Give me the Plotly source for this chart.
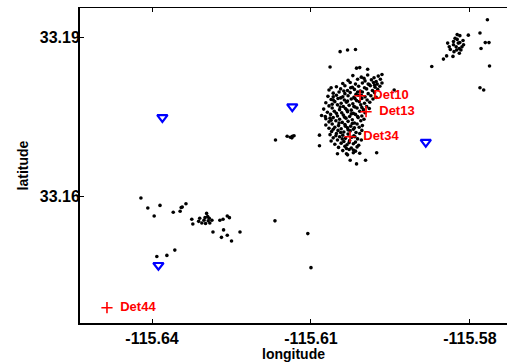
import plotly.graph_objects as go

# ---------------- data ----------------
# dense cluster near the detections (lon, lat)
cluster_pts = [
    (-115.6021,33.1828),(-115.6005,33.1825),(-115.5993,33.1829),(-115.5981,33.1824),(-115.5973,33.1827),(-115.5966,33.1830),
    (-115.6030,33.1819),(-115.6012,33.1821),(-115.5998,33.1818),(-115.5986,33.1820),(-115.5977,33.1817),(-115.5969,33.1821),
    (-115.6040,33.1813),(-115.6026,33.1815),(-115.6016,33.1812),(-115.6003,33.1814),(-115.5990,33.1811),(-115.5982,33.1815),(-115.5975,33.1812),(-115.5966,33.1814),
    (-115.6052,33.1807),(-115.6036,33.1809),(-115.6022,33.1806),(-115.6010,33.1808),(-115.5999,33.1805),(-115.5988,33.1809),(-115.5979,33.1806),(-115.5970,33.1808),
    (-115.6066,33.1801),(-115.6044,33.1803),(-115.6031,33.1800),(-115.6018,33.1802),(-115.6007,33.1799),(-115.5995,33.1803),(-115.5984,33.1800),(-115.5974,33.1802),
    (-115.6058,33.1795),(-115.6047,33.1797),(-115.6036,33.1794),(-115.6026,33.1796),(-115.6015,33.1793),(-115.6003,33.1797),(-115.5992,33.1794),(-115.5980,33.1796),
    (-115.6068,33.1789),(-115.6052,33.1791),(-115.6040,33.1788),(-115.6030,33.1790),(-115.6019,33.1787),(-115.6011,33.1791),(-115.5998,33.1788),(-115.5987,33.1790),(-115.5977,33.1787),
    (-115.6062,33.1783),(-115.6049,33.1785),(-115.6037,33.1782),(-115.6024,33.1784),(-115.6014,33.1781),(-115.6004,33.1785),(-115.5994,33.1782),(-115.5983,33.1784),
    (-115.6072,33.1777),(-115.6055,33.1779),(-115.6043,33.1776),(-115.6033,33.1778),(-115.6021,33.1775),(-115.6009,33.1779),(-115.5999,33.1776),(-115.5989,33.1778),
    (-115.6066,33.1771),(-115.6050,33.1773),(-115.6039,33.1770),(-115.6028,33.1772),(-115.6017,33.1769),(-115.6006,33.1773),(-115.5995,33.1770),
    (-115.6076,33.1765),(-115.6060,33.1767),(-115.6046,33.1764),(-115.6035,33.1766),(-115.6024,33.1763),(-115.6013,33.1767),(-115.6001,33.1764),(-115.5990,33.1766),
    (-115.6069,33.1759),(-115.6056,33.1761),(-115.6042,33.1758),(-115.6031,33.1760),(-115.6020,33.1757),(-115.6008,33.1761),(-115.5998,33.1758),
    (-115.6080,33.1753),(-115.6063,33.1755),(-115.6050,33.1752),(-115.6039,33.1754),(-115.6027,33.1751),(-115.6016,33.1755),(-115.6004,33.1752),
    (-115.6072,33.1747),(-115.6058,33.1749),(-115.6046,33.1746),(-115.6034,33.1748),(-115.6022,33.1745),(-115.6011,33.1749),(-115.6000,33.1746),
    (-115.6066,33.1741),(-115.6053,33.1743),(-115.6041,33.1740),(-115.6030,33.1742),(-115.6018,33.1739),(-115.6006,33.1743),
    (-115.6072,33.1735),(-115.6060,33.1737),(-115.6048,33.1734),(-115.6036,33.1736),(-115.6025,33.1733),(-115.6013,33.1737),(-115.6003,33.1734),
    (-115.6066,33.1729),(-115.6055,33.1731),(-115.6043,33.1728),(-115.6031,33.1730),(-115.6020,33.1727),(-115.6009,33.1731),
    (-115.6061,33.1723),(-115.6049,33.1725),(-115.6038,33.1722),(-115.6026,33.1724),(-115.6015,33.1721),(-115.6004,33.1725),
    (-115.6064,33.1717),(-115.6052,33.1719),(-115.6040,33.1716),(-115.6030,33.1718),(-115.6019,33.1715),(-115.6008,33.1719),
    (-115.6058,33.1711),(-115.6046,33.1713),(-115.6035,33.1710),(-115.6023,33.1712),(-115.6012,33.1709),
    (-115.6062,33.1705),(-115.6050,33.1707),(-115.6038,33.1704),(-115.6027,33.1706),(-115.6016,33.1703),(-115.6005,33.1707),
    (-115.6055,33.1699),(-115.6043,33.1701),(-115.6032,33.1698),(-115.6020,33.1700),(-115.6010,33.1697),
    (-115.6048,33.1693),(-115.6036,33.1695),(-115.6024,33.1692),(-115.6013,33.1694),
    (-115.6040,33.1687),(-115.6028,33.1689),(-115.6016,33.1686),
    (-115.6033,33.1681),(-115.6020,33.1683),
    (-115.6038,33.1799),(-115.6025,33.1805),(-115.6012,33.1797),(-115.6044,33.1786),(-115.6031,33.1780),(-115.6017,33.1785),
    (-115.6005,33.1791),(-115.6060,33.1774),(-115.6045,33.1769),(-115.6032,33.1763),(-115.6019,33.1770),(-115.6004,33.1768),
    (-115.6052,33.1757),(-115.6037,33.1750),(-115.6024,33.1756),(-115.6012,33.1751),(-115.6062,33.1744),(-115.6047,33.1739),
    (-115.6035,33.1733),(-115.6022,33.1738),(-115.6058,33.1727),(-115.6044,33.1721),(-115.6030,33.1726),(-115.6018,33.1730),
    (-115.6053,33.1715),(-115.6041,33.1709),(-115.6028,33.1702),(-115.6017,33.1713),(-115.5992,33.1812),(-115.5980,33.1810),
    (-115.6000,33.1823),
]
# scattered events around the main cluster and in the middle
scatter_pts = [
    (-115.6045,33.1873),(-115.6031,33.1876),(-115.6016,33.1877),(-115.6064,33.1844),(-115.6014,33.1842),
    (-115.6008,33.1843),(-115.5993,33.1840),(-115.6062,33.1805),(-115.6073,33.1751),(-115.6084,33.1716),
    (-115.6084,33.1696),(-115.6050,33.1681),(-115.6031,33.1679),(-115.6026,33.1669),(-115.6014,33.1662),
    (-115.5997,33.1669),(-115.5976,33.1683),(-115.5943,33.1801),(-115.6167,33.1707),(-115.5872,33.1845),
    (-115.6058,33.1788),(-115.6058,33.1782),(-115.6064,33.1748),(-115.6020,33.1688),(-115.6008,33.1682),
    (-115.6033,33.1691),
    (-115.6145,33.1714),(-115.6139,33.1712),(-115.6135,33.1714),(-115.6132,33.1715),(-115.6136,33.1711),
]
# south-west group
sw_pts = [
    (-115.6421,33.1598),(-115.6408,33.1579),(-115.6396,33.1564),(-115.6385,33.1584),(-115.6360,33.1571),
    (-115.6347,33.1573),(-115.6343,33.1581),(-115.6336,33.1587),(-115.6345,33.1580),(-115.6325,33.1558),
    (-115.6323,33.1549),(-115.6312,33.1554),(-115.6310,33.1560),(-115.6302,33.1556),(-115.6297,33.1569),
    (-115.6295,33.1563),(-115.6294,33.1555),(-115.6291,33.1551),(-115.6287,33.1556),(-115.6299,33.1550),
    (-115.6306,33.1551),(-115.6300,33.1561),(-115.6292,33.1560),(-115.6285,33.1534),(-115.6272,33.1556),
    (-115.6266,33.1558),(-115.6258,33.1564),(-115.6254,33.1561),(-115.6265,33.1538),(-115.6269,33.1524),
    (-115.6258,33.1528),(-115.6250,33.1517),(-115.6234,33.1534),(-115.6168,33.1555),(-115.6106,33.1531),
    (-115.6100,33.1467),(-115.6391,33.1488),(-115.6372,33.1490),(-115.6357,33.1500),
]
# north-east group
ne_pts = [
    (-115.5850,33.1859),(-115.5842,33.1889),(-115.5844,33.1865),(-115.5837,33.1877),(-115.5831,33.1886),
    (-115.5828,33.1898),(-115.5824,33.1905),(-115.5819,33.1903),(-115.5815,33.1882),(-115.5820,33.1870),
    (-115.5825,33.1876),(-115.5830,33.1873),(-115.5813,33.1894),(-115.5831,33.1892),(-115.5822,33.1889),
    (-115.5817,33.1876),(-115.5826,33.1882),(-115.5803,33.1904),(-115.5781,33.1908),(-115.5767,33.1933),
    (-115.5771,33.1890),(-115.5764,33.1890),(-115.5779,33.1879),(-115.5763,33.1846),(-115.5781,33.1805),
    (-115.5774,33.1801),(-115.5839,33.1882),(-115.5824,33.1896),(-115.5832,33.1864),(-115.5819,33.1890),
    (-115.5820,33.1879),(-115.5812,33.1886),
]

station_lon = [-115.63805, -115.61353, -115.58833, -115.63880]
station_lat = [33.17494, 33.17695, 33.17030, 33.14715]

det_names = ["Det10", "Det13", "Det34", "Det44"]
det_lon = [-115.60074, -115.59961, -115.60263, -115.64851]
det_lat = [33.17902, 33.17601, 33.17130, 33.13918]

x_ticks = [-115.64, -115.61, -115.58]
x_ticktext = ["-115.64", "-115.61", "-115.58"]
y_ticks = [33.16, 33.19]
y_ticktext = ["33.16", "33.19"]

x_range = [-115.6536, -115.5730]
y_range = [33.1363, 33.1955]

# ---------------- figure ----------------
all_pts = cluster_pts + scatter_pts + sw_pts + ne_pts
q_lon = [p[0] for p in all_pts]
q_lat = [p[1] for p in all_pts]

FONT = "Liberation Sans, Arial, sans-serif"

fig = go.Figure()
fig.add_trace(go.Scatter(
    x=q_lon, y=q_lat, mode="markers",
    marker=dict(color="black", size=3.6, line=dict(width=0)),
    hoverinfo="skip", showlegend=False))
fig.add_trace(go.Scatter(
    x=station_lon, y=station_lat, mode="markers",
    marker=dict(symbol="triangle-down-open", size=9, color="#0000ff",
                line=dict(width=2.2, color="#0000ff")),
    showlegend=False))
fig.add_trace(go.Scatter(
    x=det_lon, y=det_lat, mode="markers+text",
    text=["  <b>" + n + "</b>" for n in det_names], textposition="middle right",
    textfont=dict(family=FONT, size=13, color="#ff0000"),
    marker=dict(symbol="cross-thin-open", size=8, color="#ff0000",
                line=dict(width=1.6, color="#ff0000")),
    showlegend=False))
fig.add_trace(go.Scatter(x=[None], y=[None], xaxis="x2", yaxis="y",
                         showlegend=False, hoverinfo="skip"))

fig.update_layout(
    width=507, height=362,
    margin=dict(l=80, r=0, t=8, b=39),
    paper_bgcolor="white", plot_bgcolor="white",
    font=dict(family=FONT, color="black"),
    xaxis=dict(
        range=x_range, tickvals=x_ticks, ticktext=["<b>" + t + "</b>" for t in x_ticktext],
        ticks="inside", ticklen=4, tickwidth=1, tickcolor="black",
        showline=True, linewidth=2, linecolor="black",
        showgrid=False, zeroline=False, automargin=False,
        tickfont=dict(size=16),
        title=dict(text="<b>longitude</b>", font=dict(size=14), standoff=0),
    ),
    xaxis2=dict(
        range=x_range, overlaying="x", side="top", anchor="y", matches="x",
        tickvals=x_ticks, showticklabels=False,
        ticks="inside", ticklen=4, tickwidth=1, tickcolor="black",
        showline=True, linewidth=1.2, linecolor="black",
        showgrid=False, zeroline=False, automargin=False,
    ),
    yaxis=dict(
        range=y_range, tickvals=y_ticks, ticktext=["<b>" + t + "</b>" for t in y_ticktext],
        ticks="inside", ticklen=4, tickwidth=1, tickcolor="black",
        showline=True, linewidth=2, linecolor="black",
        showgrid=False, zeroline=False, automargin=False,
        tickfont=dict(size=16), ticklabelstandoff=-5,
        title=dict(text="<b>latitude</b>", font=dict(size=14), standoff=8),
    ),
)

fig.write_html("out.html", config={"displayModeBar": False},
               post_script="document.body.style.margin='0';document.body.style.overflow='hidden';")
